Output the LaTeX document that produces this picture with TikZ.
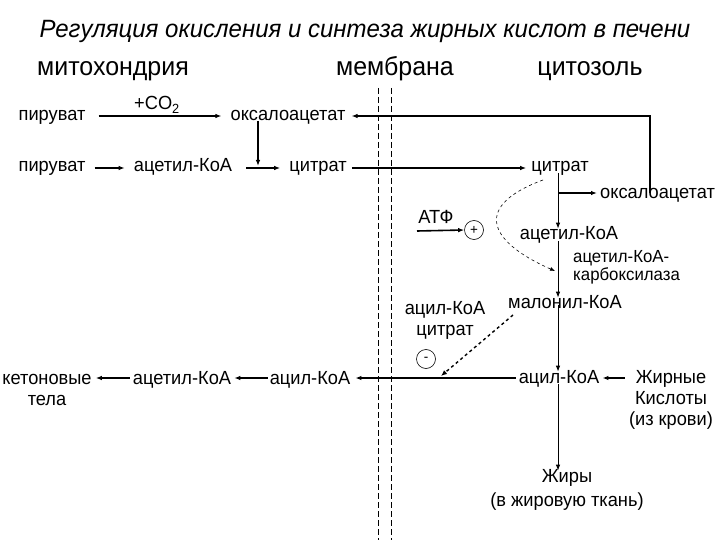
\documentclass[tikz,border=0pt]{standalone}
\usepackage{fontspec}
\setmainfont{Liberation Sans}[FakeStretch=0.96]
\usetikzlibrary{arrows.meta}
\begin{document}
\begin{tikzpicture}[x=1pt,y=-1pt,
  lbl/.style={inner sep=0pt,anchor=base,font=\fontsize{19}{21}\selectfont},
  multi/.style={lbl,align=center},
  small/.style={inner sep=0pt,anchor=base west,align=left,font=\fontsize{17.5}{18}\selectfont},
  head/.style={inner sep=0pt,anchor=base,font=\fontsize{26}{30}\selectfont},
  tip/.style={-{Latex[length=6pt,width=4.5pt]}},
  arr/.style={tip,line width=1.6pt},
  varr/.style={tip,line width=1pt},
  memb/.style={line width=0.6pt,dash pattern=on 6pt off 3pt},
  sign/.style={circle,draw,line width=0.6pt,minimum size=19pt,inner sep=0pt,font=\fontsize{14}{14}\selectfont}]
\useasboundingbox (0,0) rectangle (720,540);
\fill[white] (0,0) rectangle (720,540);
% titles
\node[inner sep=0pt,anchor=base,font=\fontsize{25}{28}\itshape\selectfont] (title) at (365,38) {Регуляция окисления и синтеза жирных кислот в печени};
\node[head] (mito) at (113,76) {митохондрия};
\node[head] (memb) at (395,76) {мембрана};
\node[head] (cyto) at (590,76) {цитозоль};
% membrane
\coordinate (m1t) at (378,88); \coordinate (m1b) at (378,540);
\coordinate (m2t) at (391,88); \coordinate (m2b) at (391,540);
\draw[memb] (m1t) -- (m1b);
\draw[memb] (m2t) -- (m2b);
% guide coordinates
\coordinate (col) at (558,0);
\coordinate (rx) at (650,0);
\coordinate (r1) at (0,116);
\coordinate (r2) at (0,168);
\coordinate (r3) at (0,193);
\coordinate (ra) at (0,231);
\coordinate (r4) at (0,378);
% row 1
\node[lbl] (p1) at (52,121) {пируват};
\node[lbl] (co2) at (157,110) {+CO\textsubscript{2}};
\node[lbl] (ox1) at (288,121) {оксалоацетат};
% row 2
\node[lbl] (p2) at (52,172) {пируват};
\node[lbl] (acoa1) at (183,172) {ацетил-КоА};
\node[lbl] (cit1) at (318,172) {цитрат};
\node[lbl] (cit2) at (560,172) {цитрат};
% cytosol
\node[lbl,anchor=base west] (ox2) at (600,199) {оксалоацетат};
\node[lbl] (atf) at (436,223) {АТФ};
\node[sign] (plus) at (474,230) {+};
\node[lbl] (acoa2) at (569,240) {ацетил-КоА};
\node[small] (acc) at (573,280) {ацетил-КоА-\\карбоксилаза};
\node[lbl] (mal) at (565,308) {малонил-КоА};
\node[multi] (acit) at (445,335) {ацил-КоА\\цитрат};
\node[sign] (minus) at (426,359) {-};
% acyl row
\node[multi] (keto) at (47,405) {кетоновые\\тела};
\node[lbl] (acoa3) at (182,384) {ацетил-КоА};
\node[lbl] (acyl1) at (310,384) {ацил-КоА};
\node[lbl] (acyl2) at (559,383) {ацил-КоА};
\node[multi] (fa) at (671,425) {Жирные\\Кислоты\\(из крови)};
\node[lbl,align=center,font=\fontsize{19}{24}\selectfont] (fat) at (567,506) {Жиры\\(в жировую ткань)};
% junctions and free ends
\coordinate (j1) at (258,166);
\coordinate (j2) at (558,193);
\coordinate (atps) at (417,231);
\coordinate (hit) at (555,271);
\coordinate (inh) at (441,376);
\coordinate (dstart) at (543,180);
\coordinate (mstart) at (513,315);
% connectors
\draw[arr] ([xshift=13pt]p1.east |- r1) -- ([xshift=-9pt]ox1.west |- r1);
\draw[arr] ([xshift=9pt]p2.east |- r2) -- ([xshift=-9pt]acoa1.west |- r2);
\draw[arr] ([xshift=14pt]acoa1.east |- r2) -- ([xshift=-9pt]cit1.west |- r2);
\draw[tip,line width=1.5pt] ([yshift=4pt]ox1.south -| j1) -- (j1);
\draw[arr] ([xshift=5pt]cit1.east |- r2) -- ([xshift=-5pt]cit2.west |- r2);
\draw[arr] ([yshift=-4pt]ox2.north -| rx) |- ([xshift=6pt]ox1.east |- r1);
\draw[varr] ([yshift=3pt]cit2.south -| col) -- ([yshift=-2pt]acoa2.north -| col);
\draw[arr] (j2) -- ([xshift=-3pt]ox2.west |- r3);
\draw[arr] (atps) -- (plus.west);
\draw[varr] ([yshift=3pt]acoa2.south -| col) -- ([yshift=-3pt]mal.north -| col);
\draw[dashed,line width=0.6pt,-{Latex[length=5pt,width=4pt]}] (dstart) .. controls (475,205) and (485,240) .. (hit);
\draw[varr] ([yshift=3pt]mal.south -| col) -- ([yshift=-2pt]acyl2.north -| col);
\draw[varr] ([yshift=3pt]acyl2.south -| col) -- ([yshift=-2pt]fat.north -| col);
\draw[arr] ([xshift=-3pt]acyl2.west |- r4) -- ([xshift=5pt]acyl1.east |- r4);
\draw[dashed,line width=1.4pt,-{Latex[length=6pt,width=5pt]}] (mstart) -- (inh);
\draw[arr] ([xshift=-4pt]fa.west |- r4) -- ([xshift=3pt]acyl2.east |- r4);
\draw[arr] ([xshift=-2pt]acyl1.west |- r4) -- ([xshift=3pt]acoa3.east |- r4);
\draw[arr] ([xshift=-3pt]acoa3.west |- r4) -- ([xshift=4pt]keto.east |- r4);
\end{tikzpicture}
\end{document}
